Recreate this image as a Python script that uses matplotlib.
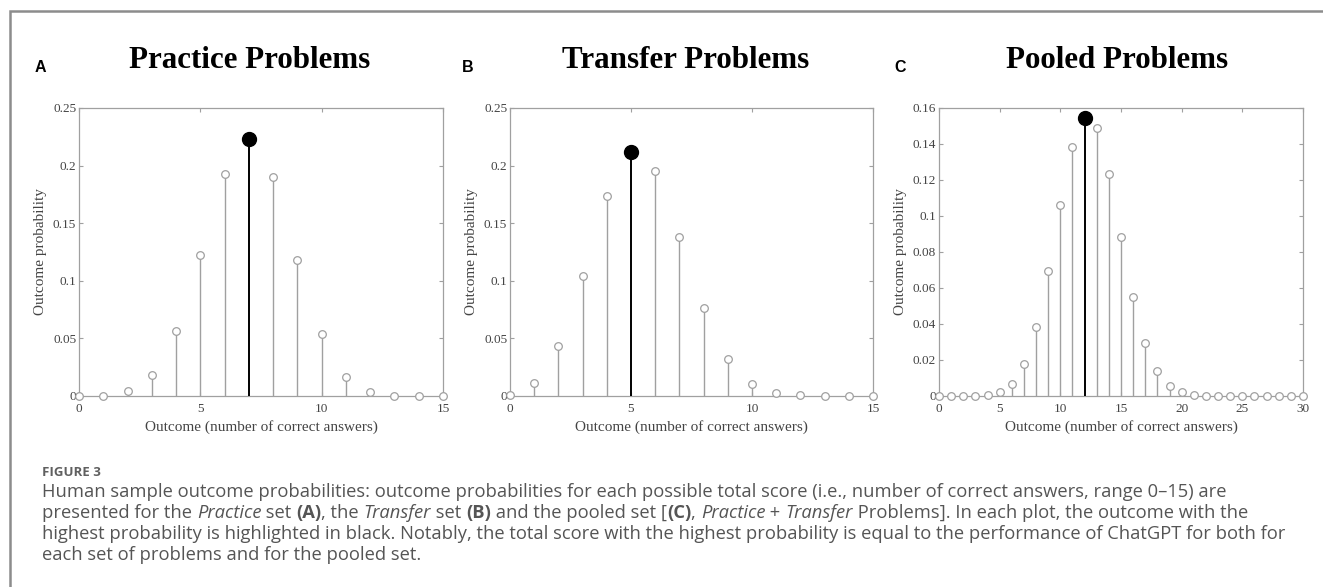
import numpy as np
import matplotlib
matplotlib.use("Agg")
import matplotlib.pyplot as plt
from matplotlib.patches import Rectangle

# outcome probabilities
practice_x = list(range(0, 16))
practice_p = [0.0, 0.0003, 0.004, 0.018, 0.0563, 0.1224, 0.1926, 0.2233,
              0.1897, 0.1183, 0.0534, 0.0165, 0.0035, 0.0003, 0.0001, 0.0]

transfer_x = list(range(0, 16))
transfer_p = [0.001, 0.0113, 0.0432, 0.1041, 0.1737, 0.2114, 0.1952, 0.138,
              0.076, 0.0325, 0.0107, 0.003, 0.0006, 0.0003, 0.0001, 0.0]

pooled_x = list(range(0, 31))
pooled_p = [0.0, 0.0, 0.0, 0.0, 0.0004, 0.0022, 0.0069, 0.0178, 0.0384, 0.0694,
            0.1062, 0.1385, 0.1544, 0.1487, 0.1234, 0.0885, 0.0551, 0.0297,
            0.0139, 0.0056, 0.002, 0.0004, 0.0, 0.0, 0.0, 0.0, 0.0, 0.0, 0.0, 0.0, 0.0]

titles = ["Practice Problems", "Transfer Problems", "Pooled Problems"]
letters = ["A", "B", "C"]
ylims = [0.25, 0.25, 0.16]
yticks = [[0, 0.05, 0.1, 0.15, 0.2, 0.25],
          [0, 0.05, 0.1, 0.15, 0.2, 0.25],
          [0, 0.02, 0.04, 0.06, 0.08, 0.1, 0.12, 0.14, 0.16]]
xticks = [[0, 5, 10, 15], [0, 5, 10, 15], [0, 5, 10, 15, 20, 25, 30]]

W, H = 1323, 587
SERIF = "Liberation Serif"
GRAY = "#a0a0a0"
TXT = "#444444"

fig = plt.figure(figsize=(W / 100, H / 100), dpi=100)

# outer frame
fig.patches.append(Rectangle((10 / W, -0.05), 1.1, (H - 11) / H + 0.05,
                             transform=fig.transFigure, fill=False,
                             edgecolor="#8c8c8c", linewidth=1.8))

axes_px = [(79, 443), (510, 873), (939, 1303)]
top_px, bot_px = 108, 396
title_cx = [250, 686, 1117]
letter_x = [40, 468, 900]

data = [(practice_x, practice_p), (transfer_x, transfer_p), (pooled_x, pooled_p)]

for i, (xs, ps) in enumerate(data):
    l, r = axes_px[i]
    ax = fig.add_axes([l / W, 1 - bot_px / H, (r - l) / W, (bot_px - top_px) / H])
    xs = np.array(xs)
    ps = np.array(ps)
    best = int(np.argmax(ps))
    others = np.arange(len(xs)) != best
    ax.vlines(xs[others], 0, ps[others], color=GRAY, linewidth=1.0, zorder=2)
    ax.plot(xs[others], ps[others], "o", markersize=5.5, markerfacecolor="white",
            markeredgecolor=GRAY, markeredgewidth=0.9, zorder=3, clip_on=False)
    ax.vlines(xs[best], 0, ps[best], color="black", linewidth=1.4, zorder=4)
    ax.plot(xs[best], ps[best], "o", markersize=10, color="black", zorder=5)

    ax.set_xlim(xs[0], xs[-1])
    ax.set_ylim(0, ylims[i])
    ax.set_xticks(xticks[i])
    ax.set_yticks(yticks[i])
    ax.set_yticklabels(["%g" % v for v in yticks[i]])
    for s in ax.spines.values():
        s.set_color(GRAY)
        s.set_linewidth(0.9)
    ax.tick_params(direction="in", length=3, width=0.8, color=GRAY,
                   top=True, right=True, labelsize=9.5, labelcolor=TXT)
    ax.tick_params(axis="x", pad=5)
    ax.tick_params(axis="y", pad=2)
    for lab in ax.get_xticklabels() + ax.get_yticklabels():
        lab.set_fontfamily(SERIF)
    ax.set_ylabel("Outcome probability", fontfamily=SERIF, fontsize=11,
                  color=TXT, labelpad=4)
    ax.set_xlabel("Outcome (number of correct answers)", fontfamily=SERIF,
                  fontsize=11, color=TXT, labelpad=4)

    fig.text(title_cx[i] / W, 1 - 61 / H, titles[i], fontfamily=SERIF,
             fontweight="bold", fontsize=22.3, ha="center", va="center")
    fig.text(letter_x[i] / W, 1 - 67 / H, letters[i], fontfamily="Liberation Sans",
             fontweight="bold", fontsize=11.5, ha="center", va="center")

# caption
CAP = "Open Sans"
CAPC = "#555555"
fig.text(42 / W, 1 - 472 / H, "FIGURE 3", fontfamily=CAP, fontweight="bold",
         fontsize=9.5, color="#606060", va="center")

caption_lines = [
    [("Human sample outcome probabilities: outcome probabilities for each possible total score (i.e., number of correct answers, range 0\u201315) are", "n")],
    [("presented for the ", "n"), ("Practice", "i"), (" set ", "n"), ("(A)", "b"),
     (", the ", "n"), ("Transfer", "i"), (" set ", "n"), ("(B)", "b"),
     (" and the pooled set [", "n"), ("(C)", "b"), (", ", "n"),
     ("Practice", "i"), (" + ", "n"), ("Transfer", "i"),
     (" Problems]. In each plot, the outcome with the", "n")],
    [("highest probability is highlighted in black. Notably, the total score with the highest probability is equal to the performance of ChatGPT for both for", "n")],
    [("each set of problems and for the pooled set.", "n")],
]
line_y = [492, 513, 534, 555]

renderer = fig.canvas.get_renderer()


def run_width(txt, kw):
    # width including trailing spaces: measure with a sentinel char
    t1 = fig.text(0, 0, txt + "|", **kw)
    t2 = fig.text(0, 0, "|", **kw)
    w = t1.get_window_extent(renderer).width - t2.get_window_extent(renderer).width
    t1.remove()
    t2.remove()
    return w


for runs, y in zip(caption_lines, line_y):
    x = 42
    for txt, st in runs:
        kw = dict(fontfamily=CAP, fontsize=13.2, color=CAPC, va="center")
        if st == "i":
            kw["fontstyle"] = "italic"
        if st == "b":
            kw["fontweight"] = "bold"
        fig.text(x / W, 1 - y / H, txt, **kw)
        x += run_width(txt, kw)

fig.savefig("out.png", dpi=100)
